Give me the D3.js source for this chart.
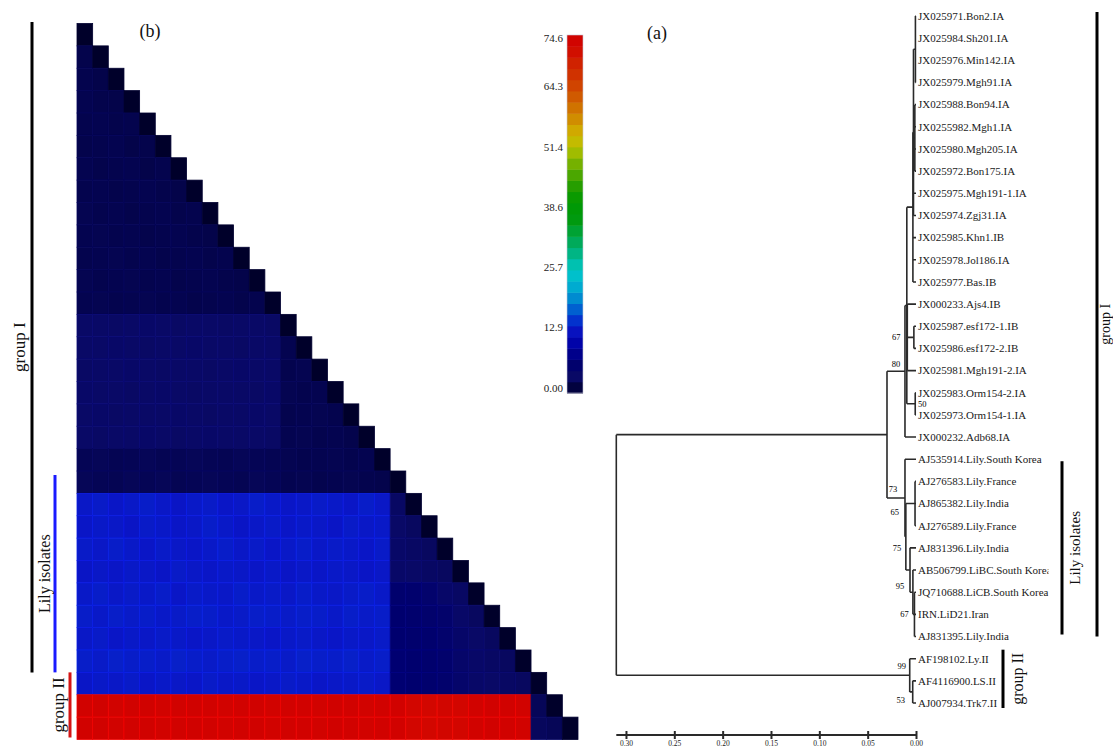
<!DOCTYPE html>
<html><head><meta charset="utf-8">
<script src="https://cdn.jsdelivr.net/npm/d3@7"></script>
<style>body{margin:0;background:#fff}svg{display:block}</style>
</head><body>
<svg id="chart" width="1113" height="751"></svg>
<script>
// ---------------- DATA ----------------
const leafNames = [
 "JX025971.Bon2.IA","JX025984.Sh201.IA","JX025976.Min142.IA","JX025979.Mgh91.IA",
 "JX025988.Bon94.IA","JX0255982.Mgh1.IA","JX025980.Mgh205.IA","JX025972.Bon175.IA",
 "JX025975.Mgh191-1.IA","JX025974.Zgj31.IA","JX025985.Khn1.IB","JX025978.Jol186.IA",
 "JX025977.Bas.IB","JX000233.Ajs4.IB","JX025987.esf172-1.IB","JX025986.esf172-2.IB",
 "JX025981.Mgh191-2.IA","JX025983.Orm154-2.IA","JX025973.Orm154-1.IA","JX000232.Adb68.IA",
 "AJ535914.Lily.South Korea","AJ276583.Lily.France","AJ865382.Lily.India","AJ276589.Lily.France",
 "AJ831396.Lily.India","AB506799.LiBC.South Korea","JQ710688.LiCB.South Korea","IRN.LiD21.Iran",
 "AJ831395.Lily.India","AF198102.Ly.II","AF4116900.LS.II","AJ007934.Trk7.II"
];
// internal nodes: height = distance from tips
const treeNodes = [
 {id:"root", h:0.310, children:["A","G2"]},
 {id:"A",    h:0.030, children:["GI","Lily"]},
 {id:"GI",   h:0.0114, bs:80, children:["B","JX000232.Adb68.IA"]},
 {id:"B",    h:0.0095, children:["C","D","F"]},
 {id:"C",    h:0.0032, children:["C0","JX025985.Khn1.IB","JX025978.Jol186.IA","JX025977.Bas.IB"]},
 {id:"C0",   h:0.0026, children:["C1","C2","JX025975.Mgh191-1.IA","JX025974.Zgj31.IA"]},
 {id:"C1",   h:0.0006, children:["JX025971.Bon2.IA","JX025984.Sh201.IA","JX025976.Min142.IA","JX025979.Mgh91.IA"]},
 {id:"C2",   h:0.0012, children:["JX025988.Bon94.IA","JX0255982.Mgh1.IA","JX025980.Mgh205.IA","JX025972.Bon175.IA"]},
 {id:"D",    h:0.0090, bs:67, children:["JX000233.Ajs4.IB","E","JX025981.Mgh191-2.IA"]},
 {id:"E",    h:0.0022, children:["JX025987.esf172-1.IB","JX025986.esf172-2.IB"]},
 {id:"F",    h:0.0008, bs:50, children:["JX025983.Orm154-2.IA","JX025973.Orm154-1.IA"]},
 {id:"Lily", h:0.0114, bs:73, children:["AJ535914.Lily.South Korea","L2"]},
 {id:"L2",   h:0.0105, bs:65, children:["Ft","L3"]},
 {id:"Ft",   h:0.0010, children:["AJ276583.Lily.France","AJ865382.Lily.India","AJ276589.Lily.France"]},
 {id:"L3",   h:0.0062, bs:75, children:["AJ831396.Lily.India","L4"]},
 {id:"L4",   h:0.0032, bs:95, children:["AB506799.LiBC.South Korea","L5"]},
 {id:"L5",   h:0.0016, bs:67, children:["JQ710688.LiCB.South Korea","IRN.LiD21.Iran","AJ831395.Lily.India"]},
 {id:"G2",   h:0.0065, bs:99, children:["AF198102.Ly.II","G2b"]},
 {id:"G2b",  h:0.0034, bs:53, children:["AF4116900.LS.II","AJ007934.Trk7.II"]}
];
const treeTicks = [0.30, 0.25, 0.20, 0.15, 0.10, 0.05, 0.00];

const groupNames = ["group I", "Lily isolates", "group II"];
const groupStart = [0, 20, 29];
const groupEnd   = [28, 28, 31];

// pairwise distance matrix (lower triangle, row r has r+1 cells)
const redRow = [73.8,74.0,73.6,73.9,74.1,73.7,73.8,74.0,73.9,73.6,73.8,74.0,73.7,73.9,73.8,73.6,74.0,73.9,73.7,73.8,73.9,72.6,72.4,72.8,72.5,73.6,73.8,73.9,73.7];
const distRows = [
 [0],
 [1.9,0],
 [2.0,1.8,0],
 [2.1,1.9,1.8,0],
 [2.0,2.1,1.9,2.0,0],
 [1.9,2.0,2.1,1.8,1.9,0],
 [2.1,1.9,2.0,2.1,1.8,2.0,0],
 [2.0,2.1,1.9,2.0,2.1,1.9,1.8,0],
 [2.2,2.0,2.1,1.9,2.0,2.1,1.9,2.0,0],
 [2.1,2.2,2.0,2.1,1.9,2.0,2.1,1.9,1.8,0],
 [2.0,2.1,2.2,2.0,2.1,1.9,2.0,2.1,1.9,2.0,0],
 [2.2,2.0,2.1,2.2,2.0,2.1,1.9,2.0,2.1,1.9,1.8,0],
 [2.1,2.2,2.0,2.1,2.2,2.0,2.1,1.9,2.0,2.1,1.9,2.0,0],
 [3.4,3.5,3.3,3.4,3.6,3.5,3.3,3.4,3.5,3.3,3.4,3.5,3.3,0],
 [3.5,3.4,3.6,3.5,3.3,3.4,3.5,3.6,3.4,3.5,3.3,3.4,3.5,2.1,0],
 [3.3,3.5,3.4,3.6,3.5,3.3,3.4,3.5,3.3,3.4,3.6,3.5,3.4,2.0,2.2,0],
 [3.6,3.4,3.5,3.3,3.4,3.6,3.5,3.3,3.5,3.4,3.5,3.3,3.6,2.2,2.0,2.1,0],
 [3.4,3.6,3.3,3.5,3.4,3.5,3.6,3.4,3.3,3.5,3.4,3.6,3.5,2.0,2.1,2.2,2.0,0],
 [3.5,3.3,3.5,3.4,3.6,3.4,3.3,3.5,3.6,3.4,3.5,3.4,3.3,2.1,2.2,2.0,2.1,1.9,0],
 [2.4,2.5,2.3,2.4,2.5,2.3,2.4,2.5,2.4,2.3,2.5,2.4,2.3,2.2,2.0,2.1,2.2,2.0,2.1,0],
 [2.5,2.4,2.3,2.5,2.4,2.5,2.3,2.4,2.5,2.4,2.3,2.5,2.4,2.1,2.2,2.0,2.1,2.2,2.0,1.9,0],
 [13.6,13.8,13.5,13.7,13.9,13.6,13.4,13.7,13.8,13.5,13.6,13.9,13.7,13.5,13.6,13.8,13.7,13.5,13.9,13.6,3.2,0],
 [13.5,13.7,13.6,13.4,13.8,13.7,13.5,13.6,13.9,13.7,13.4,13.6,13.8,13.5,13.7,13.6,13.4,13.8,13.6,13.7,3.4,3.0,0],
 [13.8,13.6,13.9,13.7,13.5,13.8,13.6,13.5,13.7,13.9,13.6,13.8,13.5,13.7,13.9,13.6,13.8,13.7,13.5,13.8,3.6,3.2,3.0,0],
 [13.4,13.6,13.5,13.7,13.6,13.4,13.8,13.6,13.5,13.7,13.6,13.5,13.7,13.4,13.6,13.5,13.7,13.6,13.4,13.6,3.8,3.4,3.2,3.0,0],
 [13.7,13.9,13.6,13.8,13.7,13.9,13.5,13.8,13.7,13.6,13.9,13.7,13.8,13.6,13.9,13.7,13.6,13.8,13.9,13.7,5.8,5.6,5.2,4.0,3.2,0],
 [13.9,13.7,14.0,13.8,13.9,13.7,13.8,14.0,13.9,13.7,13.8,14.0,13.9,13.8,14.0,13.9,13.7,14.0,13.8,13.9,6.0,5.8,5.4,5.0,3.6,3.0,0],
 [13.6,13.8,13.5,13.7,13.6,13.8,13.7,13.5,13.6,13.8,13.7,13.6,13.5,13.7,13.8,13.6,13.5,13.7,13.6,13.8,6.0,5.8,5.6,5.2,4.2,3.4,3.0,0],
 [14.0,13.8,14.1,13.9,14.0,13.8,14.1,13.9,13.8,14.0,14.1,13.9,14.0,13.8,14.1,14.0,13.9,14.1,13.8,14.0,6.2,6.0,5.6,5.4,4.4,3.6,3.2,3.0,0],
 [13.5,13.7,13.6,13.8,13.5,13.7,13.6,13.5,13.8,13.6,13.7,13.5,13.6,13.8,13.7,13.5,13.6,13.7,13.8,13.6,6.2,6.0,5.8,5.4,4.6,3.8,3.4,3.2,3.0,0],
 redRow.concat([2.6,0]),
 redRow.concat([2.8,2.5,0])
];

const legendTicks = [0, 12.9, 25.7, 38.6, 51.4, 64.3, 74.6];
const legendTickLabels = ["0.00","12.9","25.7","38.6","51.4","64.3","74.6"];
const legendMax = 74.6;
const legendBands = 32;

// colour ramp stops
const colorStops  = [0,2,3.4,6,10,13.5,16,19,22.5,25.5,28.5,32,36,40,44,47.5,51,53.5,56,59,62,65,69,72,74.6];
const colorValues = ["#00002a","#04044e","#090966","#00006e","#0000a4","#0a16c6","#0040d0","#0080d0","#00b0d0","#00c8c8","#00b890","#00a850","#009a10","#009800","#30a000","#70b000","#b0c000","#d0b800","#d09a00","#d07800","#d05800","#d03c00","#d02000","#d20800","#d00000"];

// ---------------- DRAW ----------------
const svg = d3.select("#chart");
const serif = "'Liberation Serif','Times New Roman',serif";
const color = d3.scaleLinear().domain(colorStops).range(colorValues).clamp(true);

// Heatmap (b)
const n = distRows.length;
const xb = d3.scaleBand().domain(d3.range(n)).range([77, 578]);
const yb = d3.scaleBand().domain(d3.range(n)).range([23.5, 739.5]);
const cells = [];
distRows.forEach((row, r) => row.forEach((v, c) => cells.push({r, c, v})));
svg.append("g").selectAll("rect").data(cells).join("rect")
  .attr("x", d => xb(d.c)).attr("y", d => yb(d.r))
  .attr("width", xb.bandwidth()).attr("height", yb.bandwidth())
  .attr("fill", d => color(d.v))
  .attr("stroke", d => d3.color(color(d.v)).brighter(0.4))
  .attr("stroke-width", 0.8);

svg.append("text").attr("x", 150).attr("y", 37).attr("text-anchor", "middle")
  .attr("font-family", serif).attr("font-size", 18).attr("fill", "#111").text("(b)");

// left group bars
const leftBar = [{x:32, col:"#000", tx:20, fs:17}, {x:55, col:"#1a1aff", tx:45, fs:16}, {x:70, col:"#d41414", tx:59, fs:17}];
const leftStartPad = [-1.5, 4, 0];
groupNames.forEach((g, i) => {
  const y0 = yb(groupStart[i]) + leftStartPad[i];
  const y1 = groupEnd[i] === n - 1 ? yb(groupEnd[i]) + yb.bandwidth() - 2 : yb(groupEnd[i] + 1);
  svg.append("line").attr("x1", leftBar[i].x).attr("x2", leftBar[i].x)
    .attr("y1", y0).attr("y2", y1).attr("stroke", leftBar[i].col).attr("stroke-width", 3);
  svg.append("text").attr("transform", `translate(${leftBar[i].tx},${(y0 + y1) / 2}) rotate(-90)`)
    .attr("text-anchor", "middle").attr("dy", "0.32em")
    .attr("font-family", serif).attr("font-size", leftBar[i].fs).attr("fill", "#111").text(g);
});

// Colour legend
const ly = d3.scaleLinear().domain([0, legendMax]).range([393, 35]);
const lyTick = d3.scaleLinear().domain([0, legendMax]).range([388, 38]);
const bandStep = legendMax / legendBands;
const bands = d3.range(legendBands).map(i => ({lo: i * bandStep, hi: (i + 1) * bandStep}));
const lg = svg.append("g");
lg.selectAll("rect").data(bands).join("rect")
  .attr("x", 567).attr("width", 16)
  .attr("y", d => ly(d.hi)).attr("height", d => ly(d.lo) - ly(d.hi) + 0.5)
  .attr("fill", d => color((d.lo + d.hi) / 2));
lg.append("rect").attr("x", 567).attr("y", 35).attr("width", 16).attr("height", 358)
  .attr("fill", "none").attr("stroke", "#c8c8d8").attr("stroke-width", 0.6);
lg.selectAll("text").data(legendTicks).join("text")
  .attr("x", 563).attr("y", d => lyTick(d)).attr("dy", "0.35em").attr("text-anchor", "end")
  .attr("font-family", serif).attr("font-size", 11).attr("fill", "#222")
  .text((d, i) => legendTickLabels[i]);

// Tree (a)
svg.append("text").attr("x", 657).attr("y", 39).attr("text-anchor", "middle")
  .attr("font-family", serif).attr("font-size", 18).attr("fill", "#111").text("(a)");

const nodeMap = new Map(treeNodes.map(d => [d.id, d]));
function build(id) {
  const nd = nodeMap.get(id);
  if (!nd) return {id, h: 0, leaf: true};
  return {id, h: nd.h, bs: nd.bs, children: nd.children.map(build)};
}
const root = d3.hierarchy(build("root"));
const tx = d3.scaleLinear().domain([0.31, 0]).range([616.3, 916]);
const ty = d3.scalePoint().domain(leafNames).range([16, 703]);
root.eachAfter(d => {
  d.px = tx(d.data.h);
  if (!d.children) d.py = ty(d.data.id);
  else d.py = (d.children[0].py + d.children[d.children.length - 1].py) / 2;
});

const tg = svg.append("g").attr("fill", "none").attr("stroke", "#2a2a2a").attr("stroke-width", 1.6);
root.descendants().filter(d => d.children).forEach(d => {
  const p = d3.path();
  p.moveTo(d.px, d.children[0].py);
  p.lineTo(d.px, d.children[d.children.length - 1].py);
  d.children.forEach(c => { p.moveTo(d.px, c.py); p.lineTo(c.px, c.py); });
  tg.append("path").attr("d", p.toString());
});

// leaf labels (clipped before the Lily isolates bar)
svg.append("defs").append("clipPath").attr("id", "leafclip")
  .append("rect").attr("x", 900).attr("y", 0).attr("width", 148.5).attr("height", 751);
svg.append("g").attr("clip-path", "url(#leafclip)")
  .selectAll("text").data(root.leaves()).join("text")
  .attr("x", d => d.px + 2).attr("y", d => d.py).attr("dy", "0.35em")
  .attr("font-family", serif).attr("font-size", 11).attr("fill", "#1a1a1a")
  .text(d => d.data.id);

// bootstrap values
const bsOffset = {GI:[-9,-7], D:[-11,0], F:[7,0], Lily:[-12,-9], L2:[-11,-25], L3:[-13,-22], L4:[-13,-6], L5:[-10,0], G2:[-8,-9], G2b:[-12,8]};
svg.append("g").selectAll("text").data(root.descendants().filter(d => d.data.bs)).join("text")
  .attr("x", d => d.px + (bsOffset[d.data.id] || [-8, -6])[0])
  .attr("y", d => d.py + (bsOffset[d.data.id] || [-8, -6])[1])
  .attr("dy", "0.35em").attr("text-anchor", "middle")
  .attr("font-family", serif).attr("font-size", 8.5).attr("fill", "#000")
  .text(d => d.data.bs);

// scale axis
const axisG = svg.append("g").attr("transform", "translate(0,735)")
  .call(d3.axisBottom(tx).tickValues(treeTicks).tickFormat(d3.format(".2f")).tickSizeOuter(0).tickSizeInner(4));
axisG.select(".domain").attr("stroke", "#2a2a2a").attr("stroke-width", 2).attr("d", `M${tx(0.31)},0H${tx(0)}`);
axisG.selectAll(".tick line").attr("y1", -4).attr("y2", 4).attr("stroke", "#2a2a2a").attr("stroke-width", 2);
axisG.selectAll(".tick text").attr("y", 6).attr("dy", "0.71em")
  .attr("font-family", serif).attr("font-size", 7.5).attr("fill", "#222");

// right-side group bars
const rightBar = [{x:1097, tx:1105.5, fs:14, p0:-4, p1:0}, {x:1062, tx:1075, fs:15, p0:2, p1:-2}, {x:1003, tx:1018, fs:16, p0:-9, p1:5}];
groupNames.forEach((g, i) => {
  const y0 = ty(leafNames[groupStart[i]]) + rightBar[i].p0;
  const y1 = ty(leafNames[groupEnd[i]]) + rightBar[i].p1;
  svg.append("line").attr("x1", rightBar[i].x).attr("x2", rightBar[i].x)
    .attr("y1", y0).attr("y2", y1).attr("stroke", "#000").attr("stroke-width", 3);
  svg.append("text").attr("transform", `translate(${rightBar[i].tx},${(y0 + y1) / 2}) rotate(-90)`)
    .attr("text-anchor", "middle").attr("dy", "0.32em")
    .attr("font-family", serif).attr("font-size", rightBar[i].fs).attr("fill", "#111").text(g);
});
</script>
</body></html>
